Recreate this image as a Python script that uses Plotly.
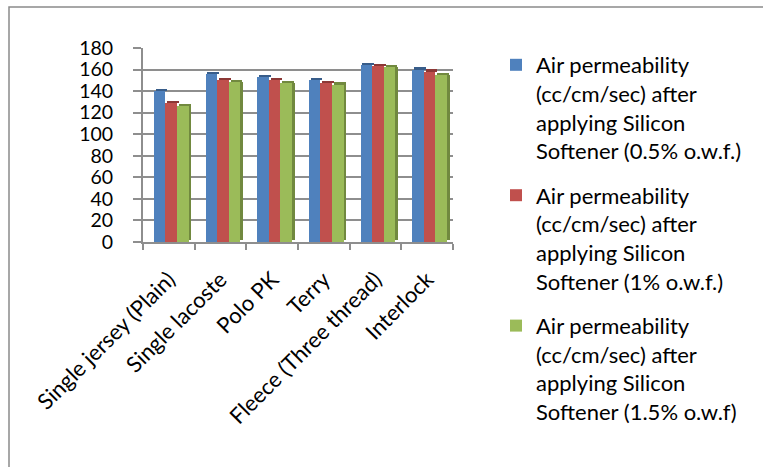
import plotly.graph_objects as go

# Fabric types on the category axis
fabrics = ["Single jersey (Plain)", "Single lacoste", "Polo PK", "Terry",
           "Fleece (Three thread)", "Interlock"]

# Air permeability (cc/cm/sec) for each softener concentration
perm_05 = [140, 156, 153, 150, 164, 160]
perm_10 = [129, 150, 150, 147.5, 163, 158]
perm_15 = [126, 148, 147.5, 146, 162, 155]

series_names = [
    "Air permeability<br>(cc/cm/sec) after<br>applying Silicon<br>Softener (0.5% o.w.f.)",
    "Air permeability<br>(cc/cm/sec) after<br>applying Silicon<br>Softener (1% o.w.f.)",
    "Air permeability<br>(cc/cm/sec) after<br>applying Silicon<br>Softener (1.5% o.w.f)",
]

face_colors = ["#4F81BD", "#C0504D", "#9BBB59"]
shade_colors = ["#385D8A", "#8C3836", "#71893F"]

bar_w = 0.225
offsets = [-0.29, -0.065, 0.16]
cap_h = 2.2

FONT = "Lato"
GRID = "#8E8E8E"

fig = go.Figure()

all_series = [perm_05, perm_10, perm_15]

# Front faces of the columns (these carry the legend)
for i, vals in enumerate(all_series):
    fig.add_trace(go.Bar(
        x=fabrics, y=vals, name=series_names[i],
        offset=offsets[i], width=bar_w,
        marker=dict(color=face_colors[i], line=dict(width=0)),
        legendgroup=f"g{i}", hoverinfo="y",
    ))

# Darker tops of the columns for a bit of depth
for i, vals in enumerate(all_series):
    fig.add_trace(go.Bar(
        x=fabrics, y=[cap_h] * len(vals), base=vals,
        offset=offsets[i] + 0.035, width=bar_w,
        marker=dict(color=shade_colors[i], line=dict(width=0)),
        showlegend=False, hoverinfo="skip",
    ))

# Shaded right-hand side of the last column in each group
fig.add_trace(go.Bar(
    x=fabrics, y=[v - 1.5 for v in perm_15], base=[1.5] * len(perm_15),
    offset=offsets[2] + bar_w, width=0.05,
    marker=dict(color=shade_colors[2], line=dict(width=0)),
    showlegend=False, hoverinfo="skip",
))

L, R, T, B = 143, 310, 48, 225
W, H = 763, 467
pw, ph = W - L - R, H - T - B


def px_x(p):
    return (p - L) / pw


def px_y(p):
    return (H - B - p) / ph


fig.update_layout(
    width=W, height=H,
    margin=dict(l=L, r=R, t=T, b=B),
    paper_bgcolor="white", plot_bgcolor="white",
    barmode="overlay",
    bargap=0,
    font=dict(family=FONT, size=21, color="#000000"),
    xaxis=dict(
        type="category",
        tickangle=-45,
        tickson="boundaries",
        ticks="outside", ticklen=6, tickcolor=GRID, tickwidth=2,
        showline=True, linecolor=GRID, linewidth=2,
        showgrid=False,
        ticklabelstandoff=14,
        tickfont=dict(family=FONT, size=22),
        range=[-0.5, 5.5],
    ),
    yaxis=dict(
        range=[0, 180], dtick=20, tick0=0,
        showgrid=True, gridcolor=GRID, gridwidth=2,
        showline=True, linecolor=GRID, linewidth=2,
        ticks="outside", ticklen=8, tickcolor=GRID, tickwidth=2,
        ticklabelstandoff=16,
        tickfont=dict(family=FONT, size=19.5),
        zeroline=False,
    ),
    legend=dict(
        xref="container", yref="container",
        x=496 / W, y=1 - 44 / H,
        xanchor="left", yanchor="top",
        traceorder="grouped", tracegroupgap=13,
        valign="top",
        maxheight=440,
        font=dict(family=FONT, size=22),
        bgcolor="rgba(0,0,0,0)",
    ),
    shapes=[dict(
        type="rect", xref="paper", yref="paper",
        x0=px_x(9), x1=px_x(775), y0=px_y(480), y1=px_y(7),
        line=dict(color="#8A8A8A", width=1.5), fillcolor="rgba(0,0,0,0)",
        layer="below",
    )],
)

fig.write_html("out.html")
